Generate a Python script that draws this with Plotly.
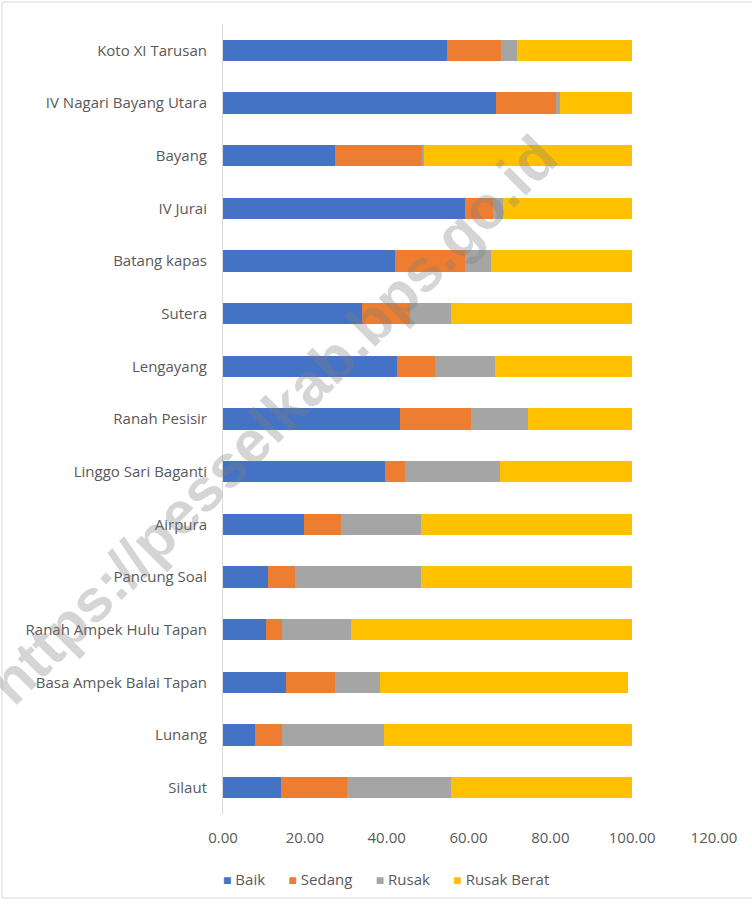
import plotly.graph_objects as go

categories = [
    "Koto XI Tarusan", "IV Nagari Bayang Utara", "Bayang", "IV Jurai", "Batang kapas",
    "Sutera", "Lengayang", "Ranah Pesisir", "Linggo Sari Baganti", "Airpura",
    "Pancung Soal", "Ranah Ampek Hulu Tapan", "Basa Ampek Balai Tapan", "Lunang", "Silaut",
]
baik = [54.8, 66.8, 27.4, 59.1, 42.1, 33.9, 42.5, 43.3, 39.7, 19.8, 11.0, 10.4, 15.3, 7.7, 14.1]
sedang = [13.2, 14.5, 21.3, 6.9, 17.0, 11.7, 9.4, 17.2, 4.9, 9.0, 6.5, 4.0, 12.0, 6.7, 16.1]
rusak = [3.9, 1.0, 0.5, 2.5, 6.3, 10.1, 14.5, 14.1, 23.2, 19.5, 30.8, 16.8, 11.0, 24.9, 25.4]
rusak_berat = [28.1, 17.7, 50.8, 31.5, 34.6, 44.3, 33.6, 25.4, 32.2, 51.7, 51.7, 68.8, 60.8, 60.7, 44.4]

series_names = ["Baik", "Sedang", "Rusak", "Rusak Berat"]
series_values = [baik, sedang, rusak, rusak_berat]
series_colors = ["#4472C4", "#ED7D31", "#A5A5A5", "#FFC000"]
x_ticks = [0, 20, 40, 60, 80, 100, 120]

FONT = "'Open Sans', sans-serif"

fig = go.Figure()
for name, vals, color in zip(series_names, series_values, series_colors):
    fig.add_trace(go.Bar(
        y=categories, x=vals, name=name, orientation="h",
        marker=dict(color=color, line=dict(width=0)),
        showlegend=False,
    ))

W, H = 752, 904
ml, mr, mt, mb = 223, 38, 24, 90
pw, ph = W - ml - mr, H - mt - mb

def px(x):
    return (x - ml) / pw

def py(y):
    return (H - mb - y) / ph

fig.update_layout(
    width=W, height=H,
    barmode="stack", bargap=0.6,
    margin=dict(l=ml, r=mr, t=mt, b=mb, autoexpand=False),
    paper_bgcolor="white", plot_bgcolor="white",
    font=dict(family=FONT, size=15, color="#595959"),
    showlegend=False,
    xaxis=dict(range=[0, 120], tickvals=x_ticks, tickformat=".2f", showgrid=False,
               zeroline=False, showline=False, ticks="", ticklabelstandoff=13,
               tickfont=dict(size=15, color="#595959")),
    yaxis=dict(autorange="reversed", showgrid=False, showline=True, linecolor="#D9D9D9",
               linewidth=1, ticks="", ticklabelstandoff=12,
               tickfont=dict(size=15, color="#595959")),
)

# chart border
fig.add_shape(type="rect", xref="paper", yref="paper",
              x0=px(2), x1=px(W + 2), y0=py(898), y1=py(2),
              line=dict(color="#D9D9D9", width=1), fillcolor="rgba(0,0,0,0)", layer="below")

# legend (drawn as text)
legend_parts = []
for name, color in zip(series_names, series_colors):
    legend_parts.append(f'<span style="color:{color};font-size:14px">\u25A0</span>\u00a0{name}')
legend_text = ("\u00a0" * 6).join(legend_parts)
fig.add_annotation(text=legend_text, xref="paper", yref="paper", x=px(386), y=py(879),
                   showarrow=False, xanchor="center", yanchor="middle",
                   font=dict(family=FONT, size=15, color="#595959"))

# watermark
fig.add_annotation(text="<b>https://pesselkab.bps.go.id</b>", xref="paper", yref="paper",
                   x=px(272), y=py(420), showarrow=False,
                   textangle=-45, font=dict(family="Liberation Sans, Arial", size=60,
                                            color="rgba(128,128,128,0.33)"),
                   xanchor="center", yanchor="middle")

fig.write_html("out.html", config={"displayModeBar": False},
               post_script="document.body.style.margin='0';")
